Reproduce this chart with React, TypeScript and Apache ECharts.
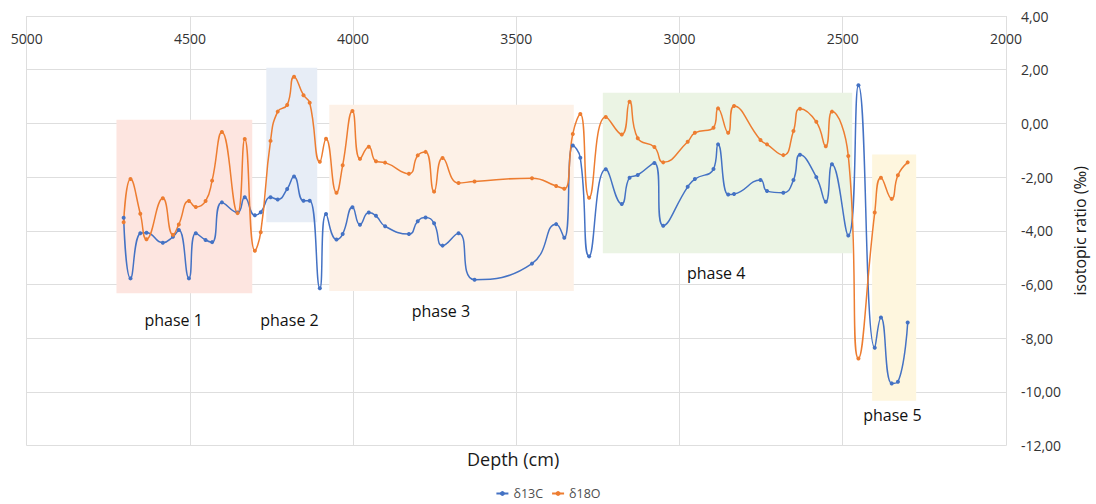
import React, { useEffect, useRef } from "react";
import * as echarts from "echarts";

// Depth (cm) of each sample
const depths = [
  4703, 4682, 4652, 4633, 4583, 4552, 4534, 4503, 4482, 4452,
  4432, 4402, 4354, 4332, 4301, 4283, 4253, 4231, 4202, 4181,
  4152, 4133, 4102, 4083, 4051, 4032, 4002, 3979, 3952, 3930,
  3902, 3829, 3802, 3778, 3752, 3726, 3677, 3628, 3452, 3378,
  3353, 3327, 3304, 3277, 3226, 3177, 3153, 3128, 3077, 3050,
  2975, 2953, 2896, 2882, 2851, 2833, 2752, 2732, 2682, 2651,
  2631, 2581, 2552, 2533, 2483, 2452, 2402, 2383, 2350, 2331,
  2301,
];

const d13C = [
  -3.51, -5.77, -4.09, -4.07, -4.44, -4.22, -3.97, -5.77, -4.09, -4.34,
  -4.42, -2.94, -3.32, -2.75, -3.42, -3.31, -2.75, -2.83, -2.44, -1.98,
  -2.88, -2.88, -6.14, -3.37, -4.32, -4.12, -3.12, -3.77, -3.32, -3.44,
  -3.83, -4.12, -3.64, -3.5, -3.72, -4.55, -4.09, -5.82, -5.22, -3.75,
  -4.26, -0.82, -1.28, -4.95, -1.71, -3.0, -2.02, -1.92, -1.47, -3.81,
  -2.36, -2.07, -1.7, -0.78, -2.65, -2.63, -2.11, -2.52, -2.58, -2.11,
  -1.17, -2.0, -2.92, -1.52, -4.17, 1.42, -8.35, -7.23, -9.68, -9.62,
  -7.41,
];

const d18O = [
  -3.68, -2.07, -3.36, -4.31, -2.79, -4.15, -3.76, -2.89, -3.11, -2.89,
  -2.13, -0.32, -3.34, -0.58, -4.74, -4.05, -0.65, 0.44, 0.69, 1.74,
  1.05, 0.77, -1.43, -0.57, -2.58, -1.56, 0.46, -1.32, -0.87, -1.41,
  -1.46, -1.87, -1.19, -1.06, -2.54, -1.29, -2.22, -2.16, -2.04, -2.33,
  -2.43, -0.39, 0.35, -2.77, 0.24, -0.41, 0.81, -0.55, -0.88, -1.45,
  -0.68, -0.35, -0.16, 0.56, -0.35, 0.65, -0.62, -0.78, -1.18, -0.28,
  0.55, 0.06, -0.85, 0.44, -1.21, -8.75, -3.32, -2.02, -2.81, -1.93,
  -1.45,
];

// Phase boxes
const phaseNames = ["phase 1", "phase 2", "phase 3", "phase 4", "phase 5"];
const phaseStart = [4725, 4266, 4073, 3235, 2410];
const phaseEnd = [4309, 4110, 3324, 2471, 2275];
const phaseTop = [0.14, 2.07, 0.7, 1.14, -1.16];
const phaseBottom = [-6.32, -3.68, -6.24, -4.83, -10.33];
const phaseColors = ["#FDE5E0", "#E7EDF6", "#FDF1E7", "#EBF4E4", "#FEF6DE"];
const labelDepth = [4550, 4195, 3731, 2888, 2348];
const labelValue = [-7.32, -7.32, -6.98, -5.57, -10.86];

const FONT = "'Open Sans', 'Liberation Sans', sans-serif";

export default function App() {
  const ref = useRef<HTMLDivElement>(null);

  useEffect(() => {
    const chart = echarts.init(ref.current!, null, { renderer: "svg" });
    chart.setOption({
      animation: false,
      backgroundColor: "#ffffff",
      textStyle: { fontFamily: FONT },
      grid: { left: 26.7, right: 87.7, top: 16, bottom: 58.3, containLabel: false },
      legend: {
        data: ["δ13C", "δ18O"],
        left: "center",
        top: 482,
        itemWidth: 12,
        itemHeight: 6,
        itemGap: 8,
        textStyle: { fontSize: 12.5, color: "#4d4d4d", fontFamily: FONT },
      },
      xAxis: {
        type: "value",
        min: 2000,
        max: 5000,
        interval: 500,
        inverse: true,
        position: "top",
        axisLine: { show: false },
        axisTick: { show: false },
        axisLabel: {
          inside: true,
          margin: 15,
          fontSize: 14,
          color: "#333333",
          fontFamily: FONT,
          formatter: (v: number) => String(v),
        },
        splitLine: { show: true, lineStyle: { color: "#dedede", width: 1 } },
      },
      yAxis: {
        type: "value",
        min: -12,
        max: 4,
        interval: 2,
        position: "right",
        axisLine: { show: false },
        axisTick: { show: false },
        axisLabel: {
          margin: 15,
          fontSize: 14,
          color: "#333333",
          fontFamily: FONT,
          formatter: (v: number) => v.toFixed(2).replace(".", ","),
        },
        splitLine: { show: true, lineStyle: { color: "#dedede", width: 1 } },
        name: "isotopic ratio (‰)",
        nameLocation: "middle",
        nameRotate: 90,
        nameGap: 66,
        nameTextStyle: { fontSize: 16, color: "#1a1a1a", fontFamily: FONT },
      },
      graphic: [
        {
          type: "text",
          left: 517 - 50,
          top: 450,
          style: {
            text: "Depth (cm)",
            fontSize: 18,
            fill: "#1a1a1a",
            fontFamily: FONT,
          },
        },
      ],
      series: [
        {
          name: "phases",
          type: "scatter",
          z: 1,
          symbolSize: 0,
          silent: true,
          itemStyle: { opacity: 1 },
          data: phaseNames.map((n, i) => ({ name: n, value: [labelDepth[i], labelValue[i]] })),
          label: {
            show: true,
            position: "inside",
            formatter: (p: any) => p.name,
            fontSize: 16,
            color: "#111111",
            opacity: 1,
            fontFamily: FONT,
          },
          markArea: {
            silent: true,
            data: phaseNames.map((n, i) => [
              { xAxis: phaseStart[i], yAxis: phaseTop[i], itemStyle: { color: phaseColors[i], opacity: 1 } },
              { xAxis: phaseEnd[i], yAxis: phaseBottom[i] },
            ]),
          },
        },
        {
          name: "δ13C",
          type: "line",
          z: 3,
          smooth: 0.5,
          symbol: "circle",
          symbolSize: 4,
          color: "#4472C4",
          lineStyle: { width: 1.5, color: "#4472C4" },
          itemStyle: { color: "#4472C4" },
          data: depths.map((d, i) => [d, d13C[i]]),
        },
        {
          name: "δ18O",
          type: "line",
          z: 3,
          smooth: 0.5,
          symbol: "circle",
          symbolSize: 4,
          color: "#ED7D31",
          lineStyle: { width: 1.5, color: "#ED7D31" },
          itemStyle: { color: "#ED7D31" },
          data: depths.map((d, i) => [d, d18O[i]]),
        },
      ],
    });
    return () => chart.dispose();
  }, []);

  return (
    <div
      ref={ref}
      style={{ position: "fixed", left: 0, top: 0, width: 1096, height: 504, background: "#fff" }}
    />
  );
}
